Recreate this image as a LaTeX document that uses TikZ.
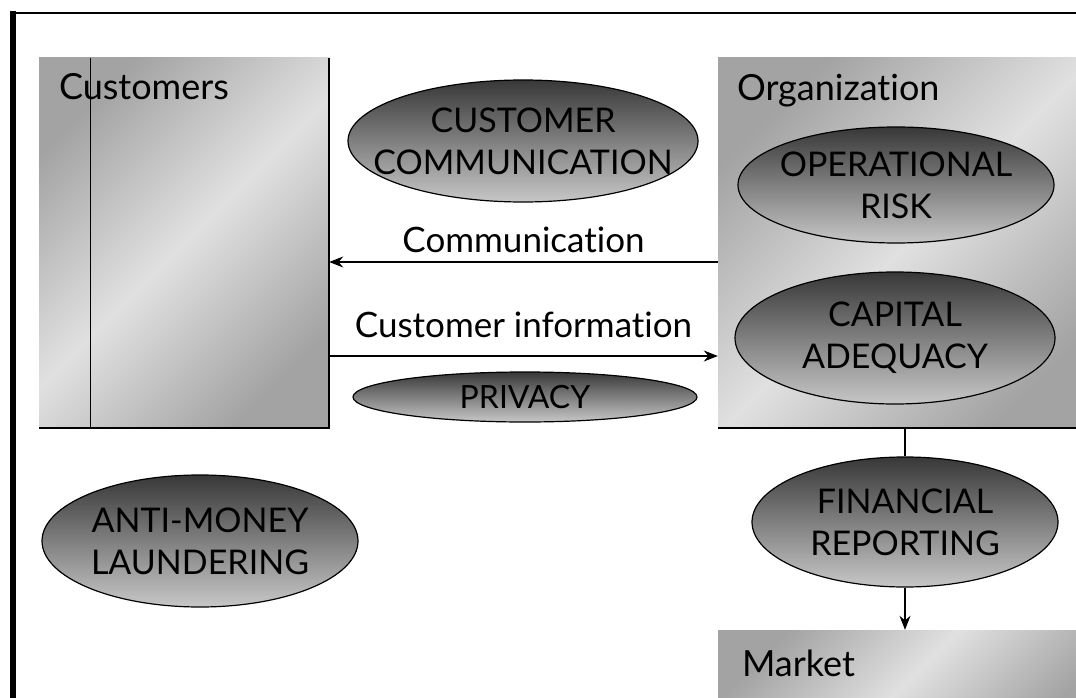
\documentclass[tikz,border=0pt]{standalone}
\usepackage{fontspec}
\setmainfont{Lato}[Ligatures={NoCommon}]
\usetikzlibrary{shapes,shadows,calc}
\usetikzlibrary{arrows.meta}

\begin{document}
\begin{tikzpicture}[x=1pt, y=-1pt]
{
	\tikzstyle{panel} = [rectangle, inner sep=0pt, left color=black!36, right color=black!36, middle color=black!12, shading angle=45]
	\tikzstyle{issue} = [ellipse, draw=black, line width=1.2pt, top color=black!78, bottom color=black!22, inner sep=0pt]
	\tikzstyle{issuetext} = [align=center, text=black, inner sep=0pt, font=\fontsize{34}{42}\selectfont]
	\tikzstyle{title} = [anchor=base west, inner sep=0pt, font=\fontsize{36}{40}\selectfont]
	\tikzstyle{flow} = [anchor=base, inner sep=0pt, font=\fontsize{35}{40}\selectfont]
	\tikzstyle{arrow} = [line width=1.2pt,->,>={Stealth[length=14pt,width=11pt]}]

	\useasboundingbox (0,0) rectangle (1076,698);

	% outer frame
	\draw [line width=6pt] (13,11) -- (13,698);
	\draw [line width=1.2pt] (10,13) -- (1076,13);

	% parties
	\node (cust) [panel, minimum width=290pt, minimum height=370pt] at (184,243) {};
	\node (org) [panel, minimum width=382pt, minimum height=370pt] at (909,243) {};
	\node (market) [panel, minimum width=382pt, minimum height=100pt] at (909,680) {};
	\draw [line width=1.5pt] (cust.north east) -- (cust.south east) -- (cust.south west);
	\draw [line width=0.8pt] ($(cust.north west)+(52,0)$) -- ($(cust.south west)+(52,0)$);
	\draw [line width=1.5pt] (org.south west) -- (org.south east);
	\node (custlbl) [title] at ($(cust.north west)+(20,42)$) {Customers};
	\node (orglbl) [title] at ($(org.north west)+(19,43)$) {Organization};
	\node (marketlbl) [title] at ($(market.north west)+(24,47)$) {Market};

	% regulatory issues
	\node (custcom) [issue, minimum width=350pt, minimum height=122pt] at (523,141) {};
	\node (oprisk) [issue, minimum width=316pt, minimum height=116pt] at (896,185) {};
	\node (capital) [issue, minimum width=320pt, minimum height=132pt] at (895,338) {};
	\node (privacy) [issue, minimum width=344pt, minimum height=50pt] at (525,397) {};
	\node (aml) [issue, minimum width=316pt, minimum height=132pt] at (200,541) {};
	\node (finrep) [issue, minimum width=306pt, minimum height=130pt] at (905,522) {};
	\node (custcomtxt) [issuetext] at (custcom) {CUSTOMER\\COMMUNICATION};
	\node (opriskdtxt) [issuetext] at (oprisk) {OPERATIONAL\\RISK};
	\node (capitaltxt) [issuetext] at (capital) {CAPITAL\\ADEQUACY};
	\node (privacytxt) [issuetext, font=\fontsize{32}{40}\selectfont] at (privacy) {PRIVACY};
	\node (amltxt) [issuetext] at (aml) {ANTI-MONEY\\LAUNDERING};
	\node (finreptxt) [issuetext] at (finrep) {FINANCIAL\\REPORTING};

	% flows
	\coordinate (commrow) at (0,262);
	\coordinate (inforow) at (0,356);
	\draw [arrow] (org.west |- commrow) -- node[flow, yshift=10pt] {Communication} (cust.east |- commrow);
	\draw [arrow] (cust.east |- inforow) -- node[flow, yshift=19pt] {Customer information} (org.west |- inforow);
	\draw [line width=1.2pt] (finrep.north |- org.south) -- (finrep.north);
	\draw [arrow] (finrep.south) -- (finrep.south |- market.north);
	}
\end{tikzpicture}
\end{document}
